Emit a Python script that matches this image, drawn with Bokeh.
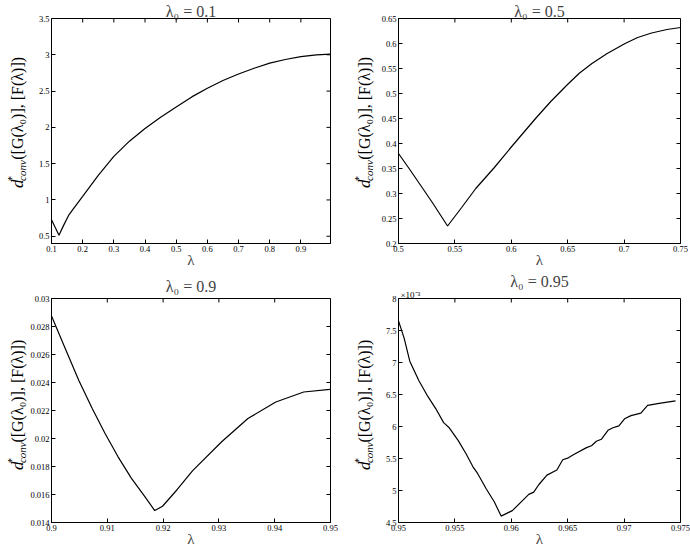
import math
from bokeh.plotting import figure
from bokeh.layouts import gridplot
from bokeh.models import Range1d, FixedTicker, Title, CustomJSTickFormatter
from bokeh.core.properties import value
from bokeh.embed import file_html
from bokeh.resources import INLINE

# ---------------- data ----------------
# lambda_0 = 0.1
lam_01 = [0.1, 0.112, 0.124, 0.14, 0.156, 0.17, 0.2, 0.25, 0.3, 0.35, 0.4, 0.45, 0.5,
          0.55, 0.6, 0.65, 0.7, 0.75, 0.8, 0.85, 0.9, 0.95, 0.995]
d_01 = [0.727, 0.62, 0.514, 0.66, 0.795, 0.877, 1.05, 1.34, 1.6, 1.81, 1.985, 2.14, 2.28,
        2.42, 2.54, 2.645, 2.735, 2.815, 2.885, 2.935, 2.975, 3.0, 3.01]
xticks_01 = [0.1, 0.2, 0.3, 0.4, 0.5, 0.6, 0.7, 0.8, 0.9]
yticks_01 = [0.5, 1.0, 1.5, 2.0, 2.5, 3.0, 3.5]

# lambda_0 = 0.5
lam_05 = [0.5, 0.51, 0.52, 0.53, 0.5435, 0.556, 0.5685, 0.585, 0.6, 0.6215, 0.635, 0.6494,
          0.66, 0.6715, 0.685, 0.7009, 0.712, 0.7244, 0.738, 0.75]
d_05 = [0.38, 0.348, 0.315, 0.282, 0.235, 0.272, 0.31, 0.352, 0.393, 0.45, 0.484, 0.517,
        0.54, 0.56, 0.58, 0.6, 0.612, 0.621, 0.628, 0.632]
xticks_05 = [0.5, 0.55, 0.6, 0.65, 0.7, 0.75]
yticks_05 = [0.2, 0.25, 0.3, 0.35, 0.4, 0.45, 0.5, 0.55, 0.6, 0.65]

# lambda_0 = 0.9
lam_09 = [0.9, 0.9025, 0.9049, 0.9073, 0.9096, 0.9119, 0.9143, 0.9167, 0.9185, 0.9199,
          0.9225, 0.9253, 0.9305, 0.9352, 0.9402, 0.9452, 0.9499]
d_09 = [0.02876, 0.0264, 0.02415, 0.02214, 0.02036, 0.01871, 0.01717, 0.01587, 0.01485,
        0.01516, 0.01634, 0.0177, 0.01977, 0.02143, 0.02261, 0.02332, 0.02351]
xticks_09 = [0.9, 0.91, 0.92, 0.93, 0.94, 0.95]
yticks_09 = [0.014, 0.016, 0.018, 0.02, 0.022, 0.024, 0.026, 0.028, 0.03]

# lambda_0 = 0.95
lam_095 = [0.95, 0.9505, 0.951, 0.9518, 0.9526, 0.9533, 0.954, 0.9545, 0.9553, 0.956,
           0.9566, 0.957, 0.9578, 0.9585, 0.9591, 0.96009, 0.96155, 0.96199, 0.96243,
           0.96316, 0.96404, 0.96456, 0.96506, 0.9655, 0.96667, 0.96711, 0.96754, 0.96798,
           0.96857, 0.96901, 0.96954, 0.97004, 0.97061, 0.97149, 0.97208, 0.97311, 0.97456]
d_095 = [7.65e-3, 7.38e-3, 7.02e-3, 6.72e-3, 6.47e-3, 6.28e-3, 6.06e-3, 5.98e-3, 5.78e-3,
         5.57e-3, 5.37e-3, 5.27e-3, 5.02e-3, 4.82e-3, 4.6e-3, 4.685e-3, 4.94e-3, 4.975e-3,
         5.09e-3, 5.24e-3, 5.32e-3, 5.48e-3, 5.51e-3, 5.56e-3, 5.67e-3, 5.70e-3, 5.77e-3,
         5.80e-3, 5.94e-3, 5.98e-3, 6.01e-3, 6.12e-3, 6.17e-3, 6.21e-3, 6.33e-3, 6.36e-3,
         6.40e-3]
xticks_095 = [0.95, 0.955, 0.96, 0.965, 0.97, 0.975]
yticks_095 = [4.5e-3, 5e-3, 5.5e-3, 6e-3, 6.5e-3, 7e-3, 7.5e-3, 8e-3]

titles = ["λ₀ = 0.1", "λ₀ = 0.5", "λ₀ = 0.9", "λ₀ = 0.95"]
x_label = "λ"
ylabel_parts = ["d", "*", "conv", " ([G(λ₀)], [F(λ)])"]
multiplier_label = "×10⁻³"

SERIF = "Liberation Serif"

plain_fmt = CustomJSTickFormatter(code="return String(Math.round(tick*1e6)/1e6);")
milli_fmt = CustomJSTickFormatter(code="return String(Math.round(tick*1e4)/10);")

# row geometry: (figure height, top border, bottom border)
ROW_TOP = (270, 18, 27)
ROW_BOT = (279, 28, 26)


def style_axis(ax, ticks, fmt):
    ax.ticker = FixedTicker(ticks=ticks)
    ax.formatter = fmt
    ax.major_tick_in = 4
    ax.major_tick_out = 0
    ax.minor_tick_line_color = None
    ax.axis_line_color = "black"
    ax.major_tick_line_color = "black"
    ax.major_label_text_font = SERIF
    ax.major_label_text_color = "black"
    ax.major_label_text_font_size = "8.5px"
    ax.major_label_standoff = 2


def make_plot(title, xs, ys, xr, yr, xt, yt, w, row, bl, br, yfmt, title_standoff=-3):
    h, bt, bb = row
    p = figure(width=w, height=h, x_range=Range1d(*xr), y_range=Range1d(*yr),
               output_backend="svg", toolbar_location=None, title=title,
               min_border_left=bl, min_border_right=br, min_border_top=bt,
               min_border_bottom=bb)
    p.title.text_font = SERIF
    p.title.text_font_size = "16px"
    p.title.text_font_style = "normal"
    p.title.align = "center"
    p.title.standoff = title_standoff
    p.xgrid.visible = False
    p.ygrid.visible = False
    p.outline_line_color = "black"
    p.background_fill_color = "white"
    p.border_fill_color = "white"

    style_axis(p.xaxis[0], xt, plain_fmt)
    style_axis(p.yaxis[0], yt, yfmt)
    p.xaxis[0].axis_label = x_label
    p.xaxis[0].axis_label_text_font = SERIF
    p.xaxis[0].axis_label_text_font_size = "15px"
    p.xaxis[0].axis_label_text_font_style = "normal"
    p.xaxis[0].axis_label_standoff = -3

    p.line(xs, ys, line_color="black", line_width=1.2)

    # mirrored inward ticks on the top and right edges
    p.ray(x=xt, y=[yr[1]] * len(xt), length=4, length_units="screen",
          angle=-math.pi / 2, line_color="black", line_width=1)
    p.ray(x=[xr[1]] * len(yt), y=yt, length=4, length_units="screen",
          angle=math.pi, line_color="black", line_width=1)
    return p


def make_ylabel(w, row, bx):
    h, bt, bb = row
    lab = figure(width=w, height=h, x_range=Range1d(0, w), y_range=Range1d(0, h),
                 output_backend="svg", toolbar_location=None, min_border=0,
                 x_axis_location=None, y_axis_location=None)
    lab.xgrid.visible = False
    lab.ygrid.visible = False
    lab.outline_line_color = None
    lab.border_fill_color = "white"
    lab.background_fill_color = "white"
    frame_h = h - bt - bb
    yc = bb + frame_h / 2.0
    ang = math.pi / 2
    common = dict(angle=ang, text_align="left", text_baseline="alphabetic",
                  text_font=value(SERIF), text_color="black")
    lab.text(x=[bx], y=[yc - 73], text=[ylabel_parts[0]], text_font_size="17px",
             text_font_style="italic", **common)
    lab.text(x=[bx - 6], y=[yc - 64.5], text=[ylabel_parts[1]], text_font_size="10px",
             **common)
    lab.text(x=[bx + 4], y=[yc - 64.5], text=[ylabel_parts[2]], text_font_size="11px",
             text_font_style="italic", **common)
    lab.text(x=[bx], y=[yc - 39], text=[ylabel_parts[3]], text_font_size="16px",
             **common)
    return lab


LW_L, LW_R = 27, 32
COL_W = 345

p1 = make_plot(titles[0], lam_01, d_01, (0.1, 0.995), (0.4, 3.5), xticks_01, yticks_01,
               COL_W - LW_L, ROW_TOP, 21, 15, plain_fmt)
p2 = make_plot(titles[1], lam_05, d_05, (0.5, 0.75), (0.2, 0.65), xticks_05, yticks_05,
               COL_W - LW_R, ROW_TOP, 21, 10, plain_fmt)
p3 = make_plot(titles[2], lam_09, d_09, (0.9, 0.95), (0.014, 0.03), xticks_09, yticks_09,
               COL_W - LW_L, ROW_BOT, 21, 15, plain_fmt, title_standoff=7)
p4 = make_plot(titles[3], lam_095, d_095, (0.95, 0.975), (4.5e-3, 8e-3), xticks_095,
               yticks_095, COL_W - LW_R, ROW_BOT, 21, 10, milli_fmt)
p4.add_layout(Title(text=multiplier_label, align="left", offset=2, standoff=-2,
                    text_font=SERIF, text_font_size="9px", text_font_style="normal",
                    text_color="black"), "above")

l1 = make_ylabel(LW_L, ROW_TOP, 17)
l2 = make_ylabel(LW_R, ROW_TOP, 19)
l3 = make_ylabel(LW_L, ROW_BOT, 17)
l4 = make_ylabel(LW_R, ROW_BOT, 19)

grid = gridplot([[l1, p1, l2, p2], [l3, p3, l4, p4]], toolbar_location=None)

open("out.html", "w").write(file_html(grid, INLINE))
